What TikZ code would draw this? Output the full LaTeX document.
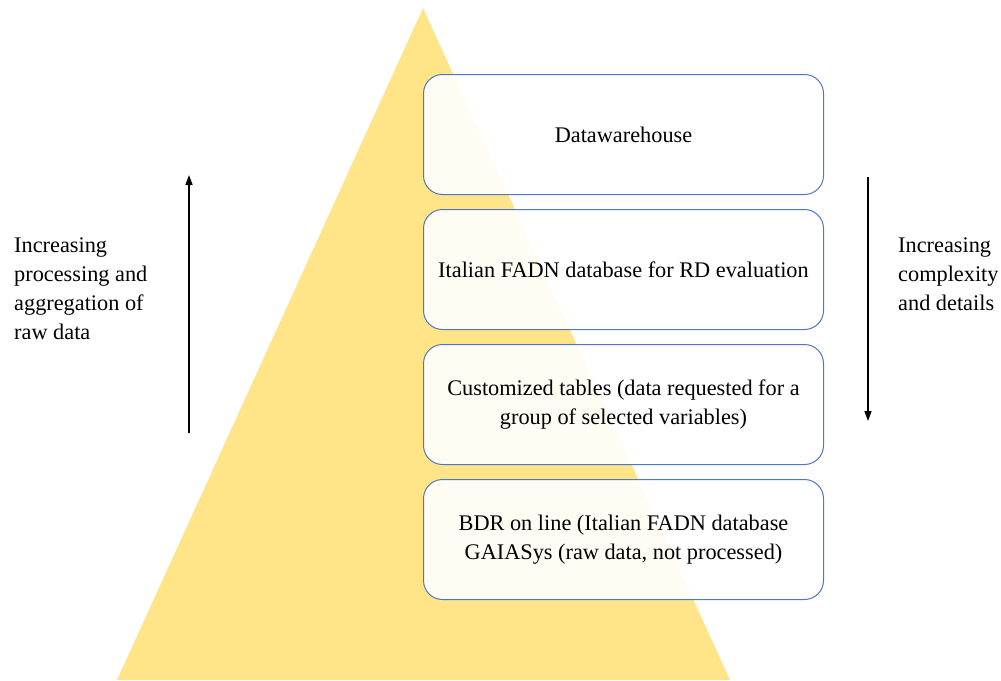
\documentclass[tikz,border=0pt]{standalone}
\usepackage{fontspec}
\setmainfont{Liberation Serif}
\newfontfamily\timesfont{Liberation Serif}
\usetikzlibrary{positioning, arrows.meta, shadows}

\definecolor{pyramidyellow}{RGB}{255,229,135}
\definecolor{boxblue}{RGB}{79,120,196}

\begin{document}
\begin{tikzpicture}[
                    x=1pt, y=-1pt,
                    node distance=14pt,
                    level/.style={
                        rectangle, rounded corners=19pt,
                        minimum width=400pt, minimum height=120pt,
                        draw=boxblue, line width=1pt,
                        fill=white, fill opacity=0.9, text opacity=1,
                        align=center, font=\timesfont\fontsize{22.3}{29}\selectfont
                        %, drop shadow
                        },
                    note/.style={
                        align=left, anchor=north west, inner sep=0pt,
                        font=\timesfont\fontsize{22.3}{29}\selectfont
                        },
                    trend/.style={
                        -{Triangle[length=10pt, width=7pt]}, line width=1.5pt
                        }
                    ]
    \useasboundingbox (0,0) rectangle (1001,680);
    % pyramid
    \fill [pyramidyellow] (423,8) -- (730,680) -- (117,680) -- cycle;
    % levels
    \node [level] (dwh) at (623.5,134.5) {Datawarehouse};
    \node [level, below=of dwh] (fadn) {Italian FADN database for RD evaluation};
    \node [level, below=of fadn] (tables) {Customized tables (data requested for a\\group of selected variables)};
    \node [level, below=of tables] (bdr) {BDR on line (Italian FADN database\\GAIASys (raw data, not processed)};
    % side notes
    \node [note] (processing) at (14,238) {Increasing\\processing and\\aggregation of\\raw data};
    \node [note] (complexity) at (898,238) {Increasing\\complexity\\and details};
    \coordinate (upstart) at (189,433);
    \coordinate (upend) at (189,175);
    \coordinate (downstart) at (868,177);
    \coordinate (downend) at (868,421);
    \draw [trend] (upstart) -- (upend);
    \draw [trend] (downstart) -- (downend);
\end{tikzpicture}
\end{document}
